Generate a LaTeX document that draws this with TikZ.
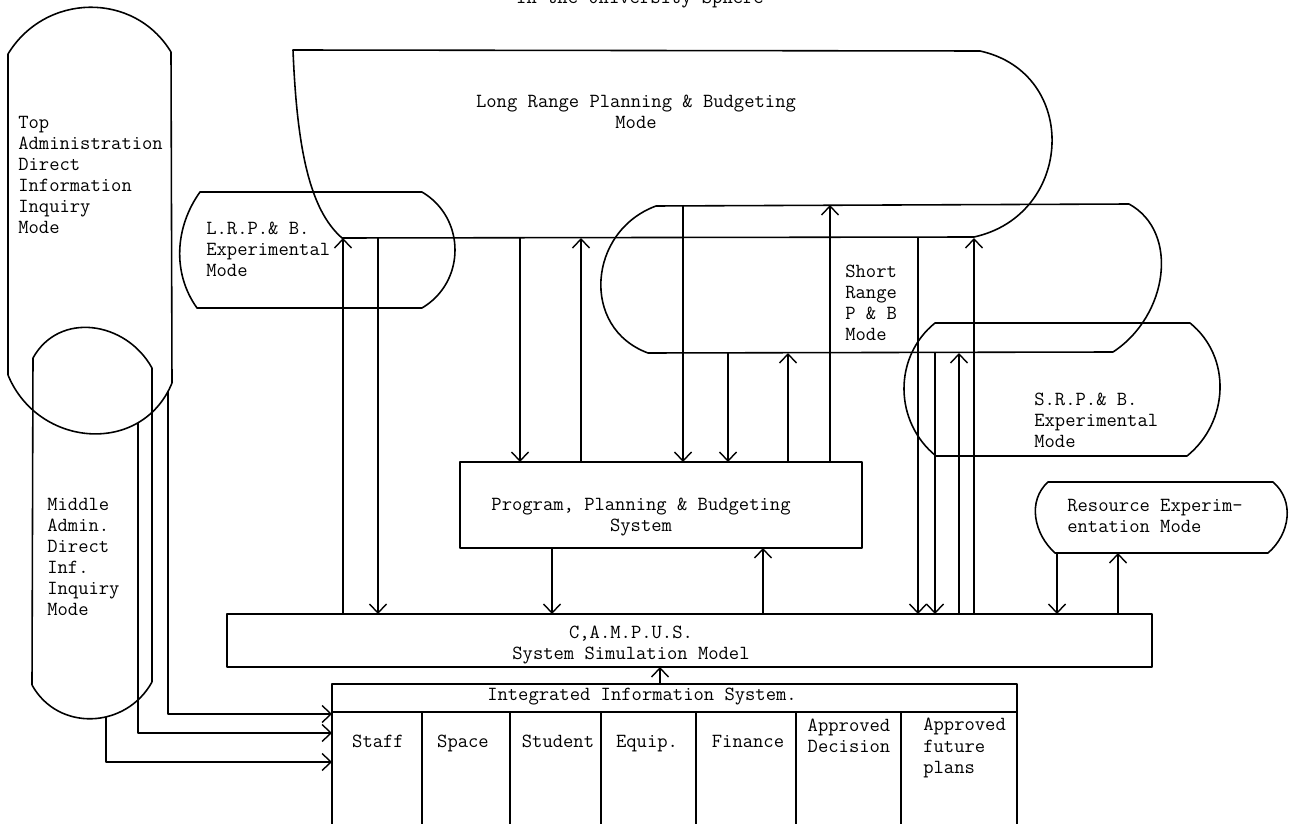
\documentclass[tikz,border=0pt]{standalone}
\usepackage{fontspec}
\usepackage{tikz}
\usetikzlibrary{arrows.meta, positioning, calc}

\newcommand{\typefont}{\fontsize{11.4pt}{12pt}\selectfont\ttfamily}

\tikzset{
  mode/.style={line width=0.9pt},
  wire/.style={line width=0.8pt},
  flow/.style={line width=0.8pt, -{Straight Barb[length=1.8mm, width=3.4mm]}},
  lbl/.style={inner sep=0pt, font=\typefont, align=left},
  box/.style={draw, line width=0.9pt, inner sep=0pt, outer sep=0pt},
}

\begin{document}
\begin{tikzpicture}[x=0.02cm, y=-0.02cm, line join=round]
  \useasboundingbox (0,0) rectangle (1289,824);
  \clip (0,0) rectangle (1289,824);

  % heading, cut by the page edge
  \node[lbl, anchor=base] (title) at (640,4) {In the University Sphere};

  % Top administration
  \draw[mode] (8,375) -- (8,54) .. controls (45,-7) and (134,-9) .. (171,52) -- (172,383);
  \draw[mode] (8,375) .. controls (38,448) and (142,456) .. (172,383)
    coordinate[pos=0.75] (ta-o2) coordinate[pos=0.96] (ta-o1);
  \node[lbl, anchor=west] (ta-txt) at (18,175) {Top\\Administration\\Direct\\Information\\Inquiry\\Mode};

  % Middle administration
  \draw[mode] (32,685) -- (33,358) .. controls (59,311) and (126,321) .. (152,368) -- (152,682);
  \draw[mode] (32,685) .. controls (58,732) and (126,729) .. (152,682)
    coordinate[pos=0.6] (ma-o);
  \node[lbl, anchor=west] (ma-txt) at (47,557) {Middle\\Admin.\\Direct\\Inf.\\Inquiry\\Mode};

  % Long range planning & budgeting
  \draw[mode] (342,238) .. controls (310,210) and (297,150) .. (293,50) -- (980,51)
    .. controls (1080,73) and (1074,215) .. (974,237) -- cycle;
  \coordinate (lr-base) at (342,238);
  \node[lbl, align=center] (lr-txt) at (636,112) {Long Range Planning \& Budgeting\\Mode};

  % L.R.P.& B. experimental
  \draw[mode] (200,192) -- (422,192) .. controls (466,218) and (466,282) .. (422,308)
    -- (197,308) .. controls (172,273) and (175,227) .. cycle;
  \node[lbl, anchor=west] (lx-txt) at (206,249) {L.R.P.\& B.\\Experimental\\Mode};

  % Short range
  \draw[mode] (656,206) -- (1129,204) .. controls (1180,232) and (1168,316) .. (1113,352)
    -- (648,353) .. controls (580,328) and (588,231) .. cycle;
  \coordinate (sr-top) at (656,205);
  \coordinate (sr-base) at (648,353);
  \node[lbl, anchor=west] (sr-txt) at (845,303) {Short\\Range\\P \& B\\Mode};

  % S.R.P.& B. experimental
  \draw[mode] (935,323) -- (1190,323) .. controls (1232,357) and (1229,422) .. (1187,456)
    -- (936,456) .. controls (894,422) and (893,357) .. cycle;
  \node[lbl, anchor=west] (sx-txt) at (1034,420) {S.R.P.\& B.\\Experimental\\Mode};

  % Resource experimentation
  \draw[mode] (1048,482) -- (1273,482) .. controls (1295,501) and (1290,534) .. (1268,553)
    -- (1055,553) .. controls (1034,534) and (1027,501) .. cycle;
  \coordinate (rx-base) at (1055,553);
  \node[lbl, anchor=west] (rx-txt) at (1067,516) {Resource Experim-\\entation Mode};

  % PPBS
  \node[box, minimum width=8.04cm, minimum height=1.72cm] (ppbs) at (661,505) {};
  \node[lbl, align=center] (ppbs-txt) at (641,517) {Program, Planning \& Budgeting\\System};

  % CAMPUS model
  \node[box, minimum width=18.5cm, minimum height=1.06cm] (campus) at (689.5,640.5) {};
  \node[lbl, align=center] (campus-txt) at (631,645) {C,A.M.P.U.S.\\System Simulation Model};

  % Integrated information system
  \node[box, minimum width=13.7cm, minimum height=3.32cm] (iis) at (674.5,767) {};
  \draw[wire] (iis.west |- 0,712) coordinate (iis-head) -- (iis.east |- 0,712);
  \node[lbl] (iis-txt) at (642,697) {Integrated Information System.};
  \foreach \x in {422,510,601,696,796,901}
    \draw[wire] (\x,0 |- iis-head) -- (\x,0 |- iis.south);
  \foreach \x/\t [count=\i] in {378/Staff, 463/Space, 558/Student, 647/Equip., 748/Finance}
    \node[lbl, anchor=base] (col\i) at (\x,747) {\t};
  \node[lbl, align=center] (col6) at (849,736) {Approved\\Decision};
  \node[lbl, anchor=west] (col7) at (923,748) {Approved\\future\\plans};

  % connectors
  \foreach \x/\a/\b in {343/campus.north/lr-base, 378/lr-base/campus.north,
      918/lr-base/campus.north, 974/campus.north/lr-base,
      935/sr-base/campus.north, 959/campus.north/sr-base,
      1057/rx-base/campus.north, 1118/campus.north/rx-base,
      552/ppbs.south/campus.north, 763/campus.north/ppbs.south,
      520/lr-base/ppbs.north, 581/ppbs.north/lr-base,
      683/sr-top/ppbs.north, 830/ppbs.north/sr-top,
      728/sr-base/ppbs.north, 788/ppbs.north/sr-base,
      660/iis.north/campus.south}
    \draw[flow] (\x,0 |- \a) -- (\x,0 |- \b);
  \draw[flow] (ta-o1) |- (iis.west |- 0,714);
  \draw[flow] (ta-o2) |- (iis.west |- 0,733);
  \draw[flow] (ma-o) |- (iis.west |- 0,762);
\end{tikzpicture}
\end{document}
